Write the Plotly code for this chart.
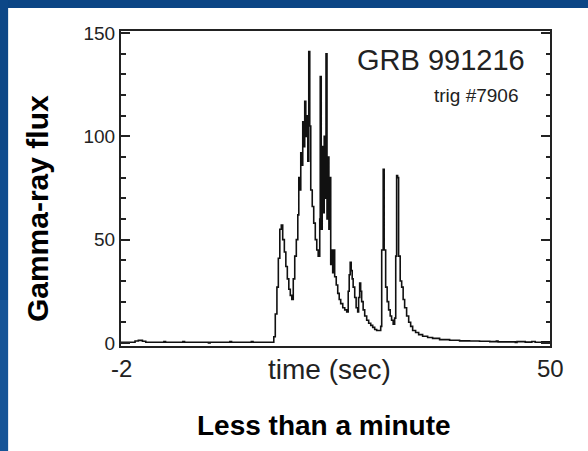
import plotly.graph_objects as go

# Light curve of GRB 991216 (BATSE trigger #7906)
time_s = [
    -2.0, -0.6, -0.3, 0.1, 0.6, 1.0, 3.0, 3.2, 3.4, 5.3, 5.5, 5.7, 8.4, 8.6, 8.8,
    11.0, 11.2, 11.4, 13.6, 13.8, 14.0, 16.28, 16.52, 16.7, 16.9, 17.07, 17.25, 17.43,
    17.6, 17.8, 17.98, 18.16, 18.34, 18.52, 18.7, 18.88, 19.06, 19.25, 19.43, 19.55,
    19.67, 19.79, 19.91, 20.03, 20.15, 20.27, 20.4, 20.52, 20.64, 20.76, 20.88, 21.0,
    21.18, 21.36, 21.55, 21.73, 21.9, 22.09, 22.15, 22.27, 22.39, 22.51, 22.63, 22.75,
    22.85, 22.97, 23.1, 23.2, 23.3, 23.42, 23.54, 23.66, 23.78, 23.9, 24.09, 24.27,
    24.45, 24.63, 24.88, 25.12, 25.36, 25.54, 25.66, 25.78, 25.9, 26.02, 26.14, 26.33,
    26.5, 26.69, 26.8, 26.93, 27.05, 27.17, 27.35, 27.54, 27.78, 28.02, 28.27, 28.51,
    28.75, 28.99, 29.23, 29.48, 29.6, 29.78, 29.9, 30.08, 30.26, 30.44, 30.63, 30.8,
    30.99, 31.17, 31.3, 31.41, 31.53, 31.65, 31.84, 32.02, 32.2, 32.38, 32.62, 32.87,
    33.11, 33.35, 33.71, 34.08, 34.56, 35.17, 35.77, 36.62, 37.83, 39.04, 40.25, 41.46,
    42.7, 43.5, 43.7, 45.0, 45.8, 46.0, 47.0, 47.8, 48.2, 49.0, 50.0,
]
flux = [
    0.3, 0.3, 0.9, 1.2, 0.8, 0.3, 0.3, 0.6, 0.3, 0.3, 0.7, 0.3, 0.3, 0.0, 0.3,
    0.3, 0.6, 0.3, 0.3, 0.7, 0.3, 0.3, 3, 14, 27, 41, 55, 57,
    50, 44, 37, 31, 26, 23, 21, 31, 42, 50, 62, 80,
    74, 92, 86, 107, 95, 117, 100, 110, 88, 141, 105, 74,
    66, 58, 50, 45, 42, 60, 129, 55, 95, 63, 100, 70,
    140, 60, 90, 55, 80, 38, 45, 34, 45, 32, 28, 24,
    21, 19, 17, 16, 15, 25, 33, 39, 35, 31, 27, 22,
    17, 15, 22, 29, 25, 20, 16, 13, 11, 9.5, 8.5, 7.5,
    6.5, 6, 6, 8, 45, 84, 45, 27, 20, 16, 13, 11,
    9, 12, 42, 81, 80, 42, 30, 27, 21, 17, 13, 10,
    8, 6, 5, 4, 3.2, 2.6, 2.2, 1.6, 1.3, 1.0, 0.9, 0.8,
    0.6, 0.9, 0.5, 0.5, 0.2, 0.6, 0.4, 0.7, 0.3, 0.5, 0.5,
]

x_tick_vals = [-2, 50]
x_tick_text = ["-2", "50"]
y_tick_vals = [0, 50, 100, 150]

W, H = 588, 451
ML, MR, MT, MB = 121, 37.5, 31, 105
PW, PH = W - ML - MR, H - MT - MB


def px(x):
    return (x - ML) / PW


def py(y):
    return 1 - (y - MT) / PH


fig = go.Figure()
fig.add_trace(go.Scatter(
    x=time_s, y=flux, mode="lines", line=dict(color="#111111", width=1.6, shape="hv"),
    hoverinfo="skip", showlegend=False,
))

fig.update_layout(
    width=W, height=H,
    margin=dict(l=ML, r=MR, t=MT, b=MB, pad=0),
    paper_bgcolor="white",
    plot_bgcolor="white",
    font=dict(family="Liberation Sans, Arial, sans-serif", color="#222222"),
    xaxis=dict(
        range=[-2, 50], showgrid=False, zeroline=False, showline=True, mirror=True,
        linecolor="#222222", linewidth=2, ticks="", tickvals=x_tick_vals,
        showticklabels=False,
    ),
    yaxis=dict(
        range=[-1.5, 151], showgrid=False, zeroline=False, showline=True, mirror="allticks",
        linecolor="#222222", linewidth=2, ticks="inside", ticklen=9, tickwidth=1.5,
        tickcolor="#222222", tickvals=y_tick_vals,
        tickfont=dict(size=19, color="#222222"),
        minor=dict(ticks="inside", ticklen=4.5, tickwidth=1.5, tickcolor="#222222", dtick=10),
    ),
    shapes=[
        # blue frame strips along the top and left edges
        dict(type="rect", xref="paper", yref="paper", x0=px(-2), x1=px(W + 2),
             y0=py(8), y1=py(-2), fillcolor="#0b4585", line=dict(width=0), layer="below"),
        dict(type="rect", xref="paper", yref="paper", x0=px(-2), x1=px(8),
             y0=py(150), y1=py(-2), fillcolor="#0c4787", line=dict(width=0), layer="below"),
        dict(type="rect", xref="paper", yref="paper", x0=px(-2), x1=px(8),
             y0=py(300), y1=py(150), fillcolor="#104d8f", line=dict(width=0), layer="below"),
        dict(type="rect", xref="paper", yref="paper", x0=px(-2), x1=px(8),
             y0=py(H + 2), y1=py(300), fillcolor="#155497", line=dict(width=0), layer="below"),
    ],
)

annotations = [
    dict(text="-2", x=-2, xref="x", y=py(368), yref="paper", showarrow=False,
         font=dict(size=24, color="#222222"), xanchor="center", yanchor="middle"),
    dict(text="50", x=50, xref="x", y=py(368), yref="paper", showarrow=False,
         font=dict(size=24, color="#222222"), xanchor="center", yanchor="middle"),
    dict(text="time (sec)", x=px(330), xref="paper", y=py(369), yref="paper", showarrow=False,
         font=dict(size=28, color="#222222"), xanchor="center", yanchor="middle"),
    dict(text="GRB 991216", x=px(527), xref="paper", y=py(60), yref="paper", showarrow=False,
         font=dict(size=29, color="#222222"), xanchor="right", yanchor="middle"),
    dict(text="trig #7906", x=px(521), xref="paper", y=py(96), yref="paper", showarrow=False,
         font=dict(size=19, color="#222222"), xanchor="right", yanchor="middle"),
    dict(text="<b>Gamma-ray flux</b>", x=px(37), xref="paper", y=py(209), yref="paper",
         showarrow=False, textangle=-90, font=dict(size=30, color="black"),
         xanchor="center", yanchor="middle"),
    dict(text="<b>Less than a minute</b>", x=px(324), xref="paper", y=py(425), yref="paper",
         showarrow=False, font=dict(size=28, color="black"),
         xanchor="center", yanchor="middle"),
]
fig.update_layout(annotations=annotations)

fig.write_html(
    "out.html",
    config={"displayModeBar": False},
    post_script="document.body.style.margin='0';document.body.style.padding='0';",
)
